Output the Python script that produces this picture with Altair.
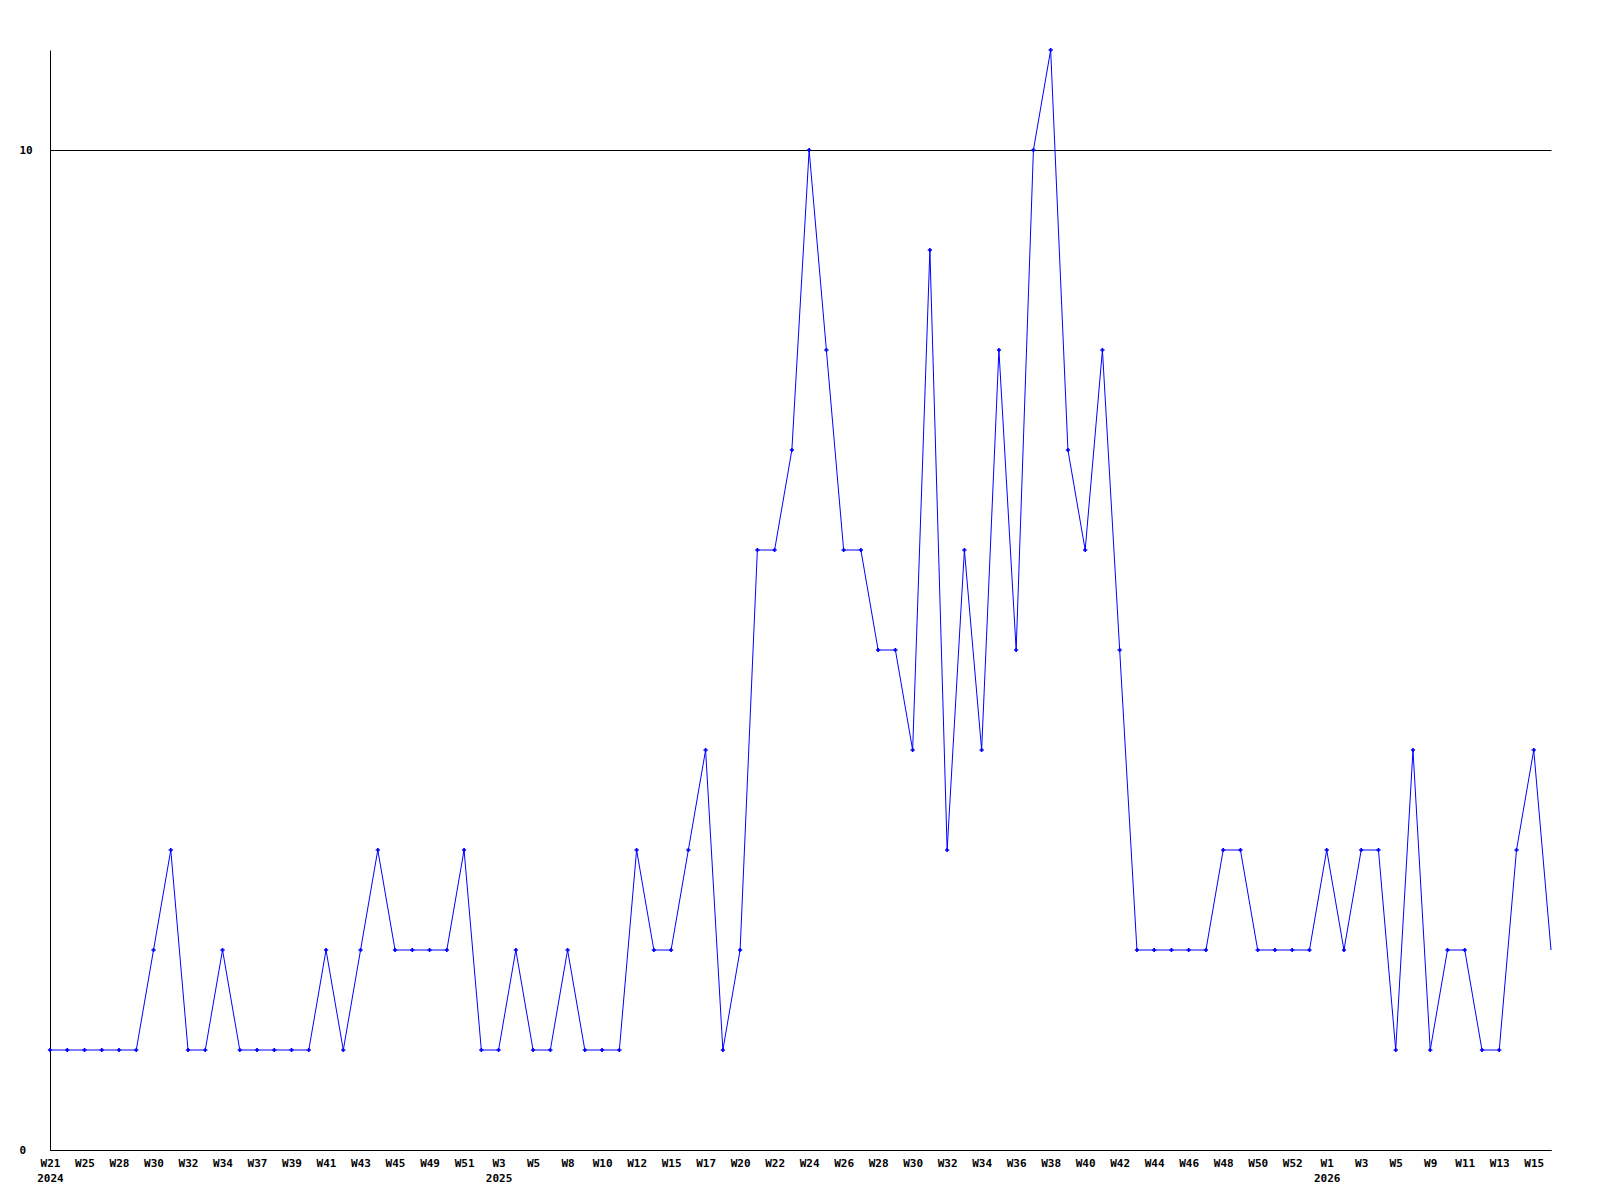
import json
import altair as alt
import pandas as pd

values = [1, 1, 1, 1, 1, 1, 2, 3, 1, 1, 2, 1, 1, 1, 1, 1, 2, 1, 2, 3,
          2, 2, 2, 2, 3, 1, 1, 2, 1, 1, 2, 1, 1, 1, 3, 2, 2, 3, 4, 1,
          2, 6, 6, 7, 10, 8, 6, 6, 5, 5, 4, 9, 3, 6, 4, 8, 5, 10, 11, 7,
          6, 8, 5, 2, 2, 2, 2, 2, 3, 3, 2, 2, 2, 2, 3, 2, 3, 3, 1, 4,
          1, 2, 2, 1, 1, 3, 4, 2]

week_labels = ["W21", "", "W25", "", "W28", "", "W30", "", "W32", "", "W34", "", "W37", "", "W39", "", "W41", "", "W43", "",
               "W45", "", "W49", "", "W51", "", "W3", "", "W5", "", "W8", "", "W10", "", "W12", "", "W15", "", "W17", "",
               "W20", "", "W22", "", "W24", "", "W26", "", "W28", "", "W30", "", "W32", "", "W34", "", "W36", "", "W38", "",
               "W40", "", "W42", "", "W44", "", "W46", "", "W48", "", "W50", "", "W52", "", "W1", "", "W3", "", "W5", "",
               "W9", "", "W11", "", "W13", "", "W15", ""]

year_labels = {0: "2024", 26: "2025", 74: "2026"}

tick_text = [[w, year_labels[i]] if i in year_labels else w for i, w in enumerate(week_labels)]

df = pd.DataFrame({"idx": list(range(len(values))), "value": values})

label_expr = json.dumps(tick_text) + "[datum.value]"

FONT = "DejaVu Sans Mono"

x = alt.X("idx:O",
          scale=alt.Scale(paddingOuter=0, paddingInner=0, padding=0, align=0),
          axis=alt.Axis(title=None, values=list(range(0, len(values), 2)),
                        labelExpr=label_expr, labelAngle=0, ticks=False,
                        labelPadding=7, labelOverlap=False, labelBaseline="top",
                        labelLineHeight=15, labelFont=FONT, labelFontWeight="bold",
                        labelFontSize=11, labelColor="black", domainColor="black",
                        grid=False))
y = alt.Y("value:Q",
          scale=alt.Scale(domain=[0, 11], nice=False, zero=True),
          axis=alt.Axis(title=None, values=[0, 10], ticks=False, labelPadding=31,
                        labelAlign="left", labelBaseline="middle",
                        labelFont=FONT, labelFontWeight="bold", labelFontSize=11,
                        labelColor="black", domainColor="black",
                        grid=True, gridColor="black", gridOpacity=1, gridWidth=1))

base = alt.Chart(df)
line = base.mark_line(color="#0000FF", strokeWidth=1).encode(x=x, y=y)
pts = base.transform_filter(alt.datum.idx < len(values) - 1).mark_point(
    shape="cross", filled=True, color="#0000FF", size=18, opacity=1
).encode(x=x, y=y)

chart = (line + pts).properties(
    width=1501, height=1100,
    padding={"left": 42, "top": 42, "right": 20, "bottom": 40},
    autosize=alt.AutoSizeParams(type="none"),
    view=alt.ViewBackground(strokeOpacity=0, strokeWidth=0),
).configure_view(strokeOpacity=0, strokeWidth=0).configure(background="white")

chart.save("out.html", embed_options={"renderer": "svg", "actions": False})
